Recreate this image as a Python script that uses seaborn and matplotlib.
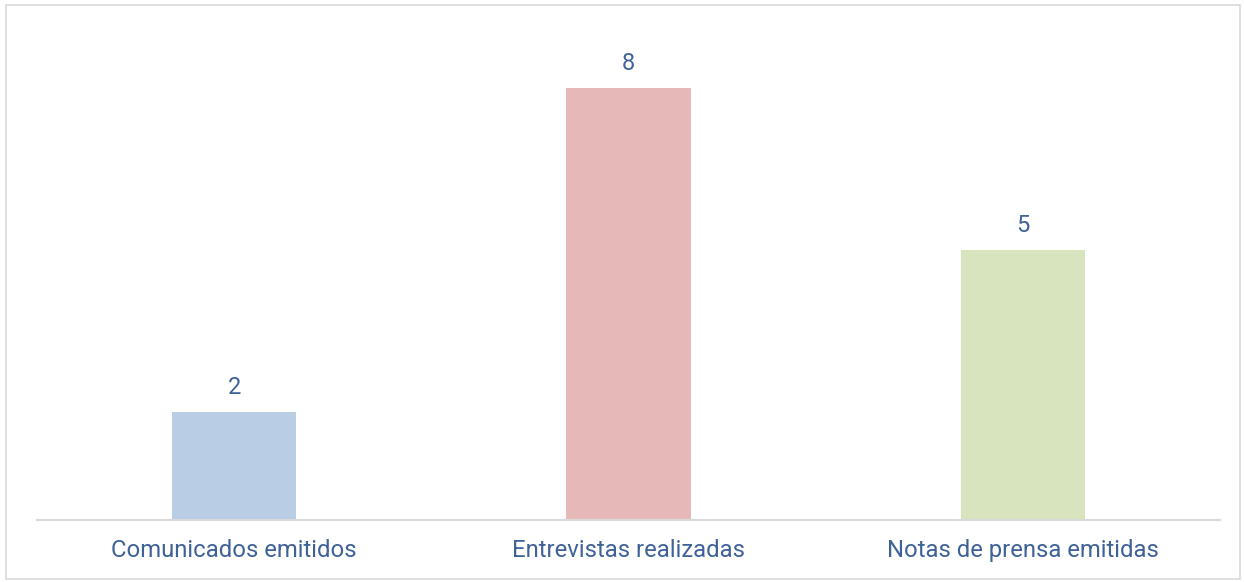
import matplotlib
matplotlib.use("Agg")
import matplotlib.pyplot as plt
import seaborn as sns
import pandas as pd
from matplotlib.patches import Rectangle

categories = ["Comunicados emitidos", "Entrevistas realizadas", "Notas de prensa emitidas"]
values = [2, 8, 5]
colors = ["#B9CDE5", "#E6B9B8", "#D7E4BD"]
text_color = "#3E6298"

sns.set_theme(style="white")
plt.rcParams['font.family'] = ['Roboto', 'DejaVu Sans']

df = pd.DataFrame({"cat": categories, "val": values})

W, H = 1244, 582
fig = plt.figure(figsize=(W/100, H/100), dpi=100)
ax = fig.add_axes([37/W, (H-520)/H, (1220-37)/W, (520-34)/H])
sns.barplot(data=df, x="cat", y="val", hue="cat", palette=colors, legend=False,
            width=0.315, ax=ax, saturation=1, linewidth=0)
ax.set_xlim(-0.5, 2.5)
ax.set_ylim(0, 9)
ax.set_yticks([])
ax.set_xlabel("")
ax.set_ylabel("")
for s in ["top", "left", "right"]:
    ax.spines[s].set_visible(False)
ax.spines["bottom"].set_color("#D9D9D9")
ax.spines["bottom"].set_linewidth(1.5)
ax.tick_params(axis="x", length=0, pad=14, labelsize=17.2, labelcolor=text_color)
for i, v in enumerate(values):
    ax.annotate(str(v), (i, v), xytext=(0, 18), textcoords="offset points",
                ha="center", va="center", fontsize=17, color=text_color)

fig.patches.append(Rectangle((6/W, 3/H), (1240-6)/W, (577-3)/H, transform=fig.transFigure,
                             fill=False, edgecolor="#D9D9D9", linewidth=1.2))
fig.savefig("out.png", dpi=100)
